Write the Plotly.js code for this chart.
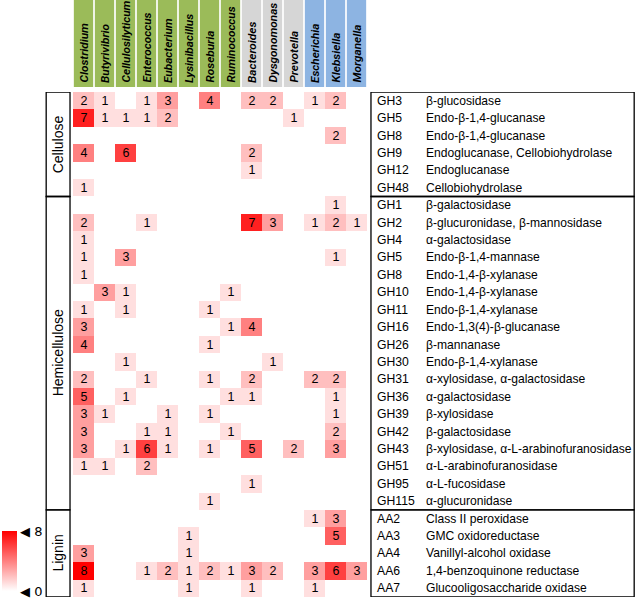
<!DOCTYPE html>
<html><head><meta charset="utf-8">
<script src="https://cdn.plot.ly/plotly-3.0.1.min.js"></script>
<style>html,body{margin:0;padding:0;background:#fff}#chart{width:637px;height:599px}</style>
</head><body><div id="chart"></div>
<script>
const genera = ['Clostridium','Butyrivibrio','Cellulosilyticum','Enterococcus','Eubacterium','Lysinibacillus','Roseburia','Ruminococcus','Bacteroides','Dysgonomonas','Prevotella','Escherichia','Klebsiella','Morganella'];
const phyla = ['Firmicutes','Firmicutes','Firmicutes','Firmicutes','Firmicutes','Firmicutes','Firmicutes','Firmicutes','Bacteroidetes','Bacteroidetes','Bacteroidetes','Proteobacteria','Proteobacteria','Proteobacteria'];
const families = ['GH3','GH5','GH8','GH9','GH12','GH48','GH1','GH2','GH4','GH5','GH8','GH10','GH11','GH16','GH26','GH30','GH31','GH36','GH39','GH42','GH43','GH51','GH95','GH115','AA2','AA3','AA4','AA6','AA7'];
const activities = ['β-glucosidase','Endo-β-1,4-glucanase','Endo-β-1,4-glucanase','Endoglucanase, Cellobiohydrolase','Endoglucanase','Cellobiohydrolase',
 'β-galactosidase','β-glucuronidase, β-mannosidase','α-galactosidase','Endo-β-1,4-mannase','Endo-1,4-β-xylanase','Endo-1,4-β-xylanase','Endo-β-1,4-xylanase','Endo-1,3(4)-β-glucanase','β-mannanase','Endo-β-1,4-xylanase','α-xylosidase, α-galactosidase','α-galactosidase','β-xylosidase','β-galactosidase','β-xylosidase, α-L-arabinofuranosidase','α-L-arabinofuranosidase','α-L-fucosidase','α-glucuronidase',
 'Class II peroxidase','GMC oxidoreductase','Vanillyl-alcohol oxidase','1,4-benzoquinone reductase','Glucooligosaccharide oxidase'];
const substrates = ['Cellulose','Hemicellulose','Lignin'];
const substrateRows = [6, 18, 5];
const counts = [
 [2,1,0,1,3,0,4,0,2,2,0,1,2,0],
 [7,1,1,1,2,0,0,0,0,0,1,0,0,0],
 [0,0,0,0,0,0,0,0,0,0,0,0,2,0],
 [4,0,6,0,0,0,0,0,2,0,0,0,0,0],
 [0,0,0,0,0,0,0,0,1,0,0,0,0,0],
 [1,0,0,0,0,0,0,0,0,0,0,0,0,0],
 [0,0,0,0,0,0,0,0,0,0,0,0,1,0],
 [2,0,0,1,0,0,0,0,7,3,0,1,2,1],
 [1,0,0,0,0,0,0,0,0,0,0,0,0,0],
 [1,0,3,0,0,0,0,0,0,0,0,0,1,0],
 [1,0,0,0,0,0,0,0,0,0,0,0,0,0],
 [0,3,1,0,0,0,0,1,0,0,0,0,0,0],
 [1,0,1,0,0,0,1,0,0,0,0,0,0,0],
 [3,0,0,0,0,0,0,1,4,0,0,0,0,0],
 [4,0,0,0,0,0,1,0,0,0,0,0,0,0],
 [0,0,1,0,0,0,0,0,0,1,0,0,0,0],
 [2,0,0,1,0,0,1,0,2,0,0,2,2,0],
 [5,0,1,0,0,0,0,1,1,0,0,0,1,0],
 [3,1,0,0,1,0,1,0,0,0,0,0,1,0],
 [3,0,0,1,1,0,0,1,0,0,0,0,2,0],
 [3,0,1,6,1,0,1,0,5,0,2,0,3,0],
 [1,1,0,2,0,0,0,0,0,0,0,0,0,0],
 [0,0,0,0,0,0,0,0,1,0,0,0,0,0],
 [0,0,0,0,0,0,1,0,0,0,0,0,0,0],
 [0,0,0,0,0,0,0,0,0,0,0,1,3,0],
 [0,0,0,0,0,1,0,0,0,0,0,0,5,0],
 [3,0,0,0,0,1,0,0,0,0,0,0,0,0],
 [8,0,0,1,2,1,2,1,3,2,0,3,6,3],
 [1,0,0,0,0,1,0,0,1,0,0,1,0,0]
];
const phylumColors = {Firmicutes:'#9BBB59', Bacteroidetes:'#D6D6D6', Proteobacteria:'#8DB4E2'};

const W = 637, H = 599;
const L = 71, R = 367, T = 92, B = 597;
const pw = R - L, ph = B - T;
const px2x = p => (p - L) / pw;
const py2y = p => (B - p) / ph;

const xs = genera.map((g, i) => i);
const ys = families.map((f, i) => i);
const txt = counts.map(r => r.map(v => v ? String(v) : ''));
const FONT = 'Liberation Sans, Arial, sans-serif';

const trace = {
  type: 'heatmap', x: xs, y: ys, z: counts, text: txt, texttemplate: '%{text}',
  textfont: {family: FONT, size: 12.5, color: '#000'},
  colorscale: [[0, '#FFFFFF'], [1, '#FF0000']], zmin: 0, zmax: 8,
  hoverinfo: 'skip',
  colorbar: {
    x: px2x(0), xanchor: 'left', xref: 'paper', y: py2y(561), yanchor: 'middle',
    thickness: 15, thicknessmode: 'pixels', len: 60, lenmode: 'pixels',
    outlinewidth: 0, tickvals: [0, 8], ticktext: ['◀ 0', '◀ 8'], ticks: '', ticklen: 0,
    tickfont: {family: 'DejaVu Sans, sans-serif', size: 13, color: '#000'}, xpad: 0, ypad: 0
  }
};

const shapes = [], annotations = [];
genera.forEach((g, i) => {
  shapes.push({type: 'rect', xref: 'x', yref: 'paper', x0: i - 0.46, x1: i + 0.46,
    y0: py2y(87), y1: py2y(0), fillcolor: phylumColors[phyla[i]], line: {width: 0}, layer: 'below'});
  annotations.push({xref: 'x', yref: 'paper', x: i, y: py2y(85), xanchor: 'center', yanchor: 'bottom',
    text: '<i>' + g + '</i>', textangle: -90, showarrow: false,
    font: {family: 'Roboto, ' + FONT, size: 11.8, weight: 600, color: '#000'}});
});
families.forEach((f, i) => {
  annotations.push({xref: 'paper', yref: 'y', x: px2x(375), y: i, xanchor: 'left', yanchor: 'middle',
    text: f, showarrow: false, font: {family: FONT, size: 12.2, color: '#000'}});
  annotations.push({xref: 'paper', yref: 'y', x: px2x(424), y: i, xanchor: 'left', yanchor: 'middle',
    text: activities[i], showarrow: false, font: {family: FONT, size: 12.1, color: '#000'}});
});
let start = 0;
substrates.forEach((s, k) => {
  const y0 = start - 0.5, y1 = start + substrateRows[k] - 0.5;
  shapes.push({type: 'rect', xref: 'paper', yref: 'y', x0: px2x(44), x1: px2x(68), y0: y0, y1: y1,
    line: {color: '#000', width: 1.3}});
  shapes.push({type: 'rect', xref: 'paper', yref: 'y', x0: px2x(371), x1: px2x(636), y0: y0, y1: y1,
    line: {color: '#000', width: 1.3}});
  annotations.push({xref: 'paper', yref: 'y', x: px2x(56), y: (y0 + y1) / 2, xanchor: 'center', yanchor: 'middle',
    text: s, textangle: -90, showarrow: false, font: {family: FONT, size: 14, color: '#000'}});
  start += substrateRows[k];
});

const layout = {
  width: W, height: H, margin: {l: L, r: W - R, t: T, b: H - B, pad: 0},
  paper_bgcolor: '#fff', plot_bgcolor: '#fff',
  xaxis: {range: [-0.5, 13.5], showgrid: false, zeroline: false, showticklabels: false, ticks: '', fixedrange: true},
  yaxis: {range: [28.5, -0.5], showgrid: false, zeroline: false, showticklabels: false, ticks: '', fixedrange: true},
  shapes: shapes, annotations: annotations, showlegend: false
};
Plotly.newPlot('chart', [trace], layout, {displayModeBar: false, staticPlot: true});
</script></body></html>
